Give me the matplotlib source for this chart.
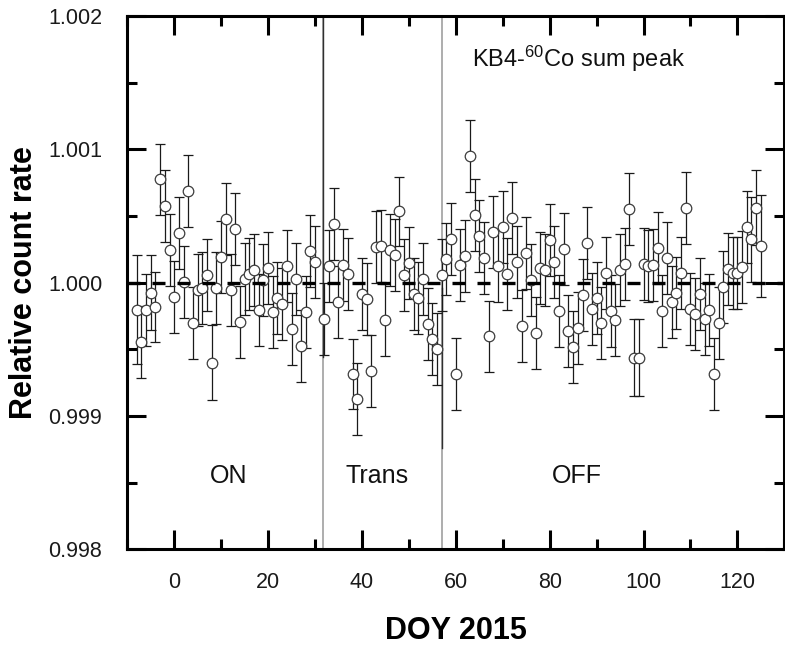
import matplotlib
matplotlib.use("Agg")
import matplotlib.pyplot as plt
from matplotlib.ticker import MultipleLocator, FormatStrFormatter

plt.rcParams['font.family'] = ['Liberation Sans', 'DejaVu Sans']
plt.rcParams['mathtext.fontset'] = 'custom'
plt.rcParams['mathtext.rm'] = 'Liberation Sans'
plt.rcParams['mathtext.it'] = 'Liberation Sans:italic'
plt.rcParams['mathtext.bf'] = 'Liberation Sans:bold'

# ---- data (day of year, deviation from 1 in ppm, error in ppm) ----
days = [-8, -7, -6, -5, -4, -3, -2, -1, 0, 1, 2, 3, 4, 5, 6, 7, 8, 9, 10, 11,
        12, 13, 14, 15, 16, 17, 18, 19, 20, 21, 22, 23, 24, 25, 26, 27, 28, 29, 30,
        32, 33, 34, 35, 36, 37, 38, 39, 40, 41, 42, 43, 44, 45, 46, 47, 48, 49, 50,
        51, 52, 53, 54, 55, 56, 57, 58, 59, 60, 61, 62, 63, 64, 65, 66, 67, 68, 69,
        70, 71, 72, 73, 74, 75, 76, 77, 78, 79, 80, 81, 82, 83, 84, 85, 86, 87, 88,
        89, 90, 91, 92, 93, 94, 95, 96, 97, 98, 99, 100, 101, 102, 103, 104, 105,
        106, 107, 108, 109, 110, 111, 112, 113, 114, 115, 116, 117, 118, 119, 120,
        121, 122, 123, 124, 125]

dev_ppm = [-202, -445, -207, -75, -182, 775, 572, 242, -107, 375, 5, 687, -302, -57,
           -40, 60, -600, -37, 192, 480, -57, 400, -295, 30, 68, 97, -207, 17, 110,
           -220, -112, -162, 122, -345, 30, -475, -220, 235, 155,
           -270, 122, 442, -145, 130, 68, -682, -875, -82, -125, -665, 267, 275, -277,
           247, 210, 535, 60, 150, -82, -115, 30, -307, -425, -495, 60, 175, 330,
           -682, 130, 200, 950, 505, 350, 187, -402, 380, 125, 417, 67, 487, 155,
           -327, 225, 17, -377, 110, 97, 317, 155, -212, 255, -365, -482, -340, -95,
           300, -195, -112, -302, 75, -215, -282, 92, 142, 550, -562, -562, 137, 125,
           135, 262, -212, 185, -145, -75, 75, 562, -195, -232, -87, -270, -202, -682,
           -302, -32, 100, 75, 72, 117, 417, 325, 562, 275]

err_ppm = [410, 270, 270, 280, 265, 265, 270, 270, 270, 270, 270, 270, 270, 270,
           270, 270, 280, 270, 270, 270, 270, 270, 270, 270, 270, 270, 270, 270, 270,
           270, 270, 270, 270, 270, 270, 270, 270, 270, 270,
           270, 270, 270, 270, 270, 270, 262, 270, 270, 270, 270, 270, 270, 270,
           270, 270, 260, 270, 270, 270, 270, 270, 270, 270, 270, 270, 270, 270,
           270, 270, 270, 270, 270, 270, 270, 265, 270, 270, 270, 270, 270, 270,
           270, 270, 270, 270, 270, 270, 270, 270, 270, 270, 270, 270, 270, 270,
           270, 270, 270, 270, 270, 270, 270, 270, 270, 270, 290, 290, 270, 270,
           270, 270, 270, 270, 270, 270, 270, 270, 270, 270, 270, 270, 270, 270,
           270, 270, 270, 270, 270, 270, 270, 320, 280, 380]

period_bounds = [31.7, 57.1]
region_labels = ["ON", "Trans", "OFF"]
region_label_x = [11.5, 43.3, 85.8]

rate = [1.0 + d * 1e-6 for d in dev_ppm]
err = [e * 1e-6 for e in err_ppm]

fig = plt.figure(figsize=(7.85, 6.45), dpi=100)
ax = fig.add_axes([127.3 / 785, (645 - 549.3) / 645, (784.3 - 127.3) / 785, (549.3 - 16) / 645])

# vertical period boundaries
ax.axvline(period_bounds[0], ymin=0.0, ymax=1.0, color='#a0a0a0', lw=1.2, zorder=1)
ax.axvline(period_bounds[0], ymin=0.36, ymax=1.0, color='#303030', lw=1.0, zorder=1)
ax.axvline(period_bounds[1], ymin=0.0, ymax=1.0, color='#a0a0a0', lw=1.2, zorder=1)
ax.axvline(period_bounds[1], ymin=0.19, ymax=0.49, color='#303030', lw=1.0, zorder=1)

ax.errorbar(days, rate, yerr=err, fmt='o', ms=7.6, mfc='white', mec='#3c3c3c',
            mew=0.9, ecolor='#1a1a1a', elinewidth=0.9, capsize=3.6, capthick=0.9,
            zorder=3)

ax.axhline(1.0, color='black', lw=2.4, ls=(0, (3.9, 3.6)), zorder=5)

ax.set_xlim(-10, 130)
ax.set_ylim(0.998, 1.002)
ax.xaxis.set_major_locator(MultipleLocator(20))
ax.xaxis.set_minor_locator(MultipleLocator(10))
ax.yaxis.set_major_locator(MultipleLocator(0.001))
ax.yaxis.set_minor_locator(MultipleLocator(0.0005))
ax.yaxis.set_major_formatter(FormatStrFormatter('%.3f'))

ax.tick_params(which='both', direction='in', top=True, right=True, width=2.2,
               colors='black', labelcolor='#1a1a1a', labelsize=15.5)
ax.tick_params(which='major', length=14)
ax.tick_params(which='minor', length=7)
ax.tick_params(axis='x', which='major', pad=16)
ax.tick_params(axis='y', which='major', pad=18)
for s in ax.spines.values():
    s.set_linewidth(2.2)

ax.set_xlabel('DOY 2015', fontsize=22, fontweight='bold')
ax.set_ylabel('Relative count rate', fontsize=22, fontweight='bold')
ax.xaxis.set_label_coords(0.5, -0.125)
ax.yaxis.set_label_coords(-0.134, 0.5)

for lab, xx in zip(region_labels, region_label_x):
    ax.text(xx, 0.99855, lab, fontsize=18, ha='center', va='center', color='#111111')

ax.text(63.5, 1.00162, r'KB4-$^{60}$Co sum peak', fontsize=17, ha='left',
        va='baseline', color='#111111')

fig.savefig('out.png', dpi=100)
